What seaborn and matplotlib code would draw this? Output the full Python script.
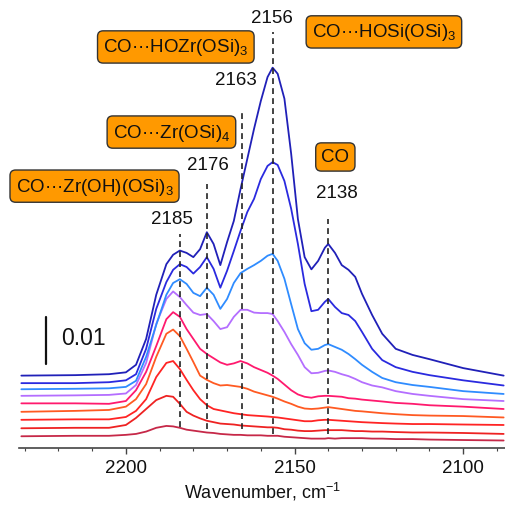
import numpy as np
import pandas as pd
import seaborn as sns
import matplotlib.pyplot as plt

# wavenumber grid, cm-1
wavenumber = [2231, 2215, 2205, 2200, 2197, 2194, 2191, 2188, 2186, 2184, 2182, 2180,
              2178, 2176, 2174, 2172, 2170, 2168, 2166, 2164, 2162, 2160, 2158, 2156.5,
              2155, 2153, 2151, 2149, 2147, 2145, 2143, 2141, 2140, 2138, 2136, 2134,
              2132, 2130, 2127, 2124, 2120, 2115, 2110, 2100, 2088]

# stacked absorbance, in units of 1e-3 (bottom spectrum first)
a1 = [2.5, 2.6, 2.6, 2.8, 3.0, 3.5, 4.3, 4.7, 4.6, 4.3, 3.9, 3.7, 3.5, 3.3, 3.2, 3.0,
      2.9, 2.8, 2.8, 2.7, 2.7, 2.7, 2.6, 2.6, 2.6, 2.4, 2.3, 2.2, 2.1, 2.0, 2.0, 2.0,
      2.1, 2.0, 2.1, 2.1, 2.1, 2.1, 2.0, 2.0, 1.9, 1.9, 1.8, 1.7, 1.6]
a2 = [4.2, 4.3, 4.3, 4.9, 6.4, 8.3, 10.2, 11.1, 10.9, 9.4, 7.7, 6.9, 6.3, 5.8, 5.5, 5.2,
      5.1, 5.0, 4.8, 4.7, 4.6, 4.5, 4.4, 4.4, 4.3, 4.0, 3.9, 3.7, 3.6, 3.6, 3.7, 3.8,
      3.8, 3.8, 3.8, 3.7, 3.6, 3.6, 3.5, 3.5, 3.4, 3.3, 3.3, 3.2, 3.0]
a3 = [6.0, 6.1, 6.1, 6.6, 7.9, 10.4, 15.1, 18.1, 18.5, 16.8, 14.5, 12.3, 10.4, 9.1, 8.3, 8.0,
      7.7, 7.4, 7.2, 7.0, 6.9, 6.8, 6.7, 6.6, 6.5, 6.3, 6.1, 5.9, 5.7, 5.7, 5.9, 6.0,
      6.0, 5.9, 5.8, 5.7, 5.6, 5.5, 5.4, 5.3, 5.2, 5.1, 5.1, 5.0, 4.9]
a4 = [7.7, 7.9, 8.1, 8.8, 10.4, 13.6, 19.4, 24.3, 25.2, 23.8, 21.1, 18.3, 15.4, 14.5, 13.8, 13.3,
      13.4, 13.2, 13.0, 12.6, 12.0, 11.6, 11.2, 10.9, 10.5, 9.9, 9.4, 8.8, 8.4, 8.3, 8.4, 8.6,
      8.7, 8.5, 8.3, 8.1, 7.9, 7.8, 7.6, 7.4, 7.2, 7.0, 6.9, 6.8, 6.5]
a5 = [9.5, 9.5, 9.4, 10.0, 12.3, 16.2, 21.7, 27.4, 28.9, 27.9, 25.3, 23.2, 21.1, 20.0, 19.1, 18.2,
      17.7, 18.0, 18.5, 18.0, 17.2, 16.6, 16.0, 15.4, 14.7, 13.5, 12.3, 11.4, 10.9, 10.7, 11.0, 11.1,
      11.1, 11.0, 10.9, 10.6, 10.5, 10.3, 10.1, 9.9, 9.6, 9.4, 9.1, 8.8, 8.3]
a6 = [11.1, 11.2, 11.3, 11.6, 13.4, 18.1, 26.4, 31.7, 33.3, 32.1, 30.4, 28.8, 28.3, 28.5, 27.0, 25.3,
      25.7, 27.9, 29.4, 29.4, 28.8, 28.7, 28.7, 28.5, 27.0, 24.7, 22.1, 19.8, 17.2, 15.9, 16.0, 16.4,
      16.5, 16.2, 15.7, 15.3, 14.7, 14.0, 13.3, 12.9, 12.1, 11.5, 11.1, 10.4, 10.0]
a7 = [12.5, 12.6, 12.7, 13.0, 14.3, 19.4, 26.2, 32.6, 35.1, 35.9, 34.9, 33.0, 32.3, 34.1, 32.6, 29.6,
      31.7, 35.1, 37.2, 38.1, 38.9, 39.8, 40.9, 41.3, 39.8, 36.0, 30.6, 25.3, 22.3, 20.9, 21.1, 21.9,
      22.1, 21.5, 20.9, 20.0, 18.9, 17.7, 16.2, 14.9, 14.0, 13.4, 13.0, 12.1, 11.5]
a8 = [13.8, 13.8, 14.0, 14.4, 15.7, 21.1, 29.6, 35.3, 37.9, 39.1, 38.5, 37.1, 38.5, 40.6, 38.1, 34.1,
      37.7, 41.9, 46.2, 50.2, 53.0, 57.2, 60.0, 60.8, 60.2, 56.8, 50.9, 43.4, 34.9, 29.1, 29.4, 31.1,
      31.7, 30.0, 28.7, 28.3, 27.0, 24.7, 21.1, 18.7, 17.2, 16.2, 15.5, 14.4, 13.3]
a9 = [15.4, 15.5, 15.7, 16.1, 17.7, 23.2, 32.6, 39.1, 41.1, 42.0, 41.5, 40.6, 42.3, 45.9, 43.4, 38.9,
      43.8, 48.3, 55.1, 61.5, 67.9, 73.8, 78.9, 80.9, 79.6, 74.3, 62.6, 48.7, 40.6, 38.0, 39.8, 42.6,
      43.4, 41.5, 38.9, 37.9, 36.4, 32.8, 28.3, 24.3, 21.1, 19.8, 18.9, 17.0, 15.4]

spectra = [a1, a2, a3, a4, a5, a6, a7, a8, a9]
colors = ["#C62848", "#EE2222", "#FF2424", "#FF5A22", "#FF1A6E",
          "#B46EFF", "#2F8CFF", "#2A2ADF", "#2020B8"]

# dashed guide lines: position, bottom, top (1e-3 units)
guide_pos = [2184, 2175.9, 2165.7, 2156.5, 2140]
guide_low = [4.5, 4.0, 4.0, 3.0, 3.0]
guide_high = [45.5, 56.2, 72.1, 88.5, 48.7]

peak_labels = ["2185", "2176", "2163", "2156", "2138"]
peak_label_x = [2186.2, 2175.8, 2167.4, 2156.6, 2137.3]
peak_label_y = [48.9, 60.2, 78.3, 91.5, 54.3]

box_labels = ["CO\u00b7\u00b7\u00b7Zr(OH)(OSi)$_3$", "CO\u00b7\u00b7\u00b7Zr(OSi)$_4$",
              "CO\u00b7\u00b7\u00b7HOZr(OSi)$_3$", "CO\u00b7\u00b7\u00b7HOSi(OSi)$_3$", "CO"]
box_x = [2209.3, 2186.5, 2185.2, 2123.5, 2137.9]
box_y = [55.7, 67.2, 85.3, 88.5, 61.9]

rows = []
for i, s in enumerate(spectra):
    for w, v in zip(wavenumber, s):
        rows.append({"wn": w, "abs": v / 1000.0, "spec": i})
df = pd.DataFrame(rows)

sns.set_theme(style="white")
plt.rcParams["font.family"] = ["Liberation Sans", "DejaVu Sans"]
plt.rcParams["mathtext.fontset"] = "custom"
plt.rcParams["mathtext.rm"] = "Liberation Sans"
plt.rcParams["mathtext.it"] = "Liberation Sans:italic"
plt.rcParams["mathtext.bf"] = "Liberation Sans:bold"
plt.rcParams["lines.solid_joinstyle"] = "round"

fig = plt.figure(figsize=(5.06, 5.06), dpi=100)
ax = fig.add_axes([0.0375, 0.1126, 0.9625, 0.8874])

sns.lineplot(data=df, x="wn", y="abs", hue="spec", palette=colors, sort=False,
             legend=False, linewidth=1.3, ax=ax)

for p, lo, hi in zip(guide_pos, guide_low, guide_high):
    ax.plot([p, p], [lo / 1000, hi / 1000], color="#222222", lw=1.2, ls=(0, (3.5, 2.5)))

for t, x, y in zip(peak_labels, peak_label_x, peak_label_y):
    ax.text(x, y / 1000, t, ha="center", va="center", fontsize=13.5, color="#111111")

for t, x, y in zip(box_labels, box_x, box_y):
    ax.text(x, y / 1000, t, ha="center", va="center", fontsize=13.5, color="#111111",
            bbox=dict(boxstyle="round,pad=0.3,rounding_size=0.3", fc="#FF9900", ec="#333333", lw=1))

# scale bar 0.01
ax.plot([2223.7, 2223.7], [0.0179, 0.0279], color="#111111", lw=1.6)
ax.text(2212.5, 0.0236, "0.01", ha="center", va="center", fontsize=16.5, color="#111111")

ax.set_xlim(2231.7, 2087.3)
ax.set_ylim(0, 0.0955)
ax.set_yticks([])
ax.set_xticks([2200, 2150, 2100])
ax.set_xticks(np.arange(2090, 2231, 10), minor=True)
ax.tick_params(axis="x", which="major", direction="out", length=4, width=1, colors="#444444",
               labelsize=13.5, labelcolor="#111111", bottom=True, pad=4)
ax.tick_params(axis="x", which="minor", direction="out", length=2.5, width=0.8, colors="#444444", bottom=True)
for side in ["top", "right", "left"]:
    ax.spines[side].set_visible(False)
ax.spines["bottom"].set_color("#444444")
ax.spines["bottom"].set_linewidth(1.2)
ax.set_xlabel("Wavenumber, cm$^{-1}$", fontsize=13, color="#111111", labelpad=3)
ax.set_ylabel("")

fig.savefig("out.png", dpi=100)
